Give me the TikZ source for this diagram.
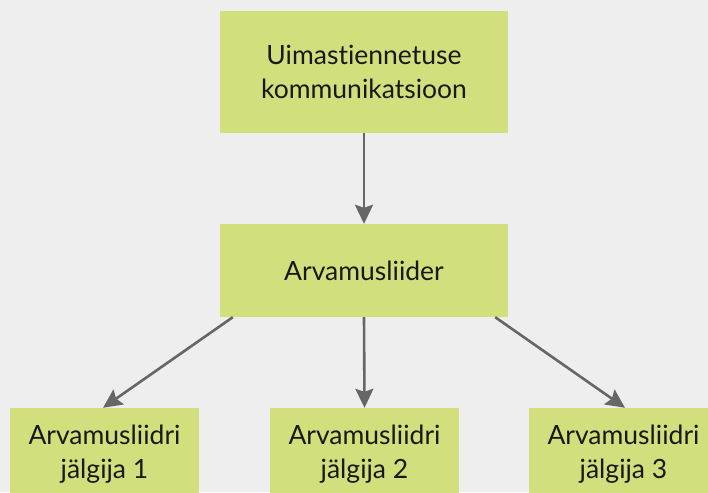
\documentclass[tikz,border=0pt]{standalone}
\usepackage{fontspec}
\setmainfont{Lato}[Ligatures={NoCommon}]
\usetikzlibrary{arrows.meta}
\definecolor{bgcol}{HTML}{EEEEEE}
\definecolor{boxcol}{HTML}{D3DE7D}
\definecolor{arrcol}{HTML}{666666}
\begin{document}
\begin{tikzpicture}[x=1pt,y=-1pt,
  box/.style={fill=boxcol, draw=none, align=center, inner sep=0pt,
    font=\fontsize{26.5}{34}\selectfont, text=black!90},
  wide/.style={box, minimum width=288pt},
  small/.style={box, minimum width=189pt, minimum height=92pt},
  link/.style={draw=arrcol, line width=2.6pt,
    -{Stealth[length=19pt, width=18pt, inset=3pt]}}]
  \fill[bgcol] (0,0) rectangle (708,492);
  \useasboundingbox (0,0) rectangle (708,492);

  \node[wide, minimum height=121pt] (top) at (364,72) {Uimastiennetuse\\kommunikatsioon};
  \node[wide, minimum height=93pt] (mid) at (364,270.5) {Arvamusliider};
  \node[small] (f1) at (104.5,454) {Arvamusliidri\\jälgija 1};
  \node[small] (f2) at (364.5,454) {Arvamusliidri\\jälgija 2};
  \node[small] (f3) at (623.5,454) {Arvamusliidri\\jälgija 3};

  \draw[link] (top.south) -- (mid.north);
  \draw[link] (mid.south) -- (f2.north);
  \draw[link] ([xshift=13pt]mid.south west) -- ([xshift=-1.5pt]f1.north);
  \draw[link] ([xshift=-13pt]mid.south east) -- ([xshift=1.5pt]f3.north);
\end{tikzpicture}
\end{document}
